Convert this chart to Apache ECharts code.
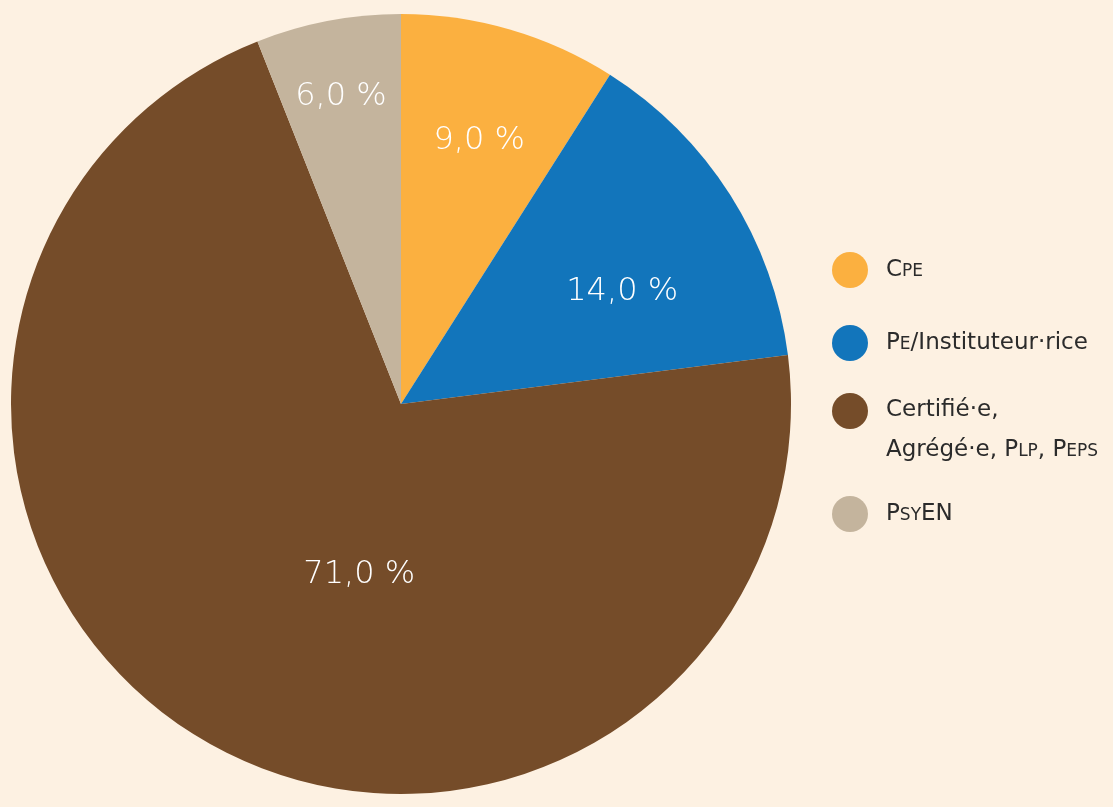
<!DOCTYPE html>
<html><head><meta charset="utf-8">
<script src="https://cdn.jsdelivr.net/npm/echarts@6/dist/echarts.min.js"></script>
<style>html,body{margin:0;padding:0;background:#FDF1E2}#c{width:1113px;height:807px}</style>
</head><body><div id="c"></div>
<script>
// Data
const categories = ['CPE', 'PE/Instituteur·rice', 'Certifié·e, Agrégé·e, PLP, PEPS', 'PsyEN'];
const values = [9.0, 14.0, 71.0, 6.0];
// Legend text with small caps (rich text)
const legendLabels = ['C{s|PE}', 'P{s|E}/Instituteur·rice', '{p|Certifié·e,}\nAgrégé·e, P{s|LP}, P{s|EPS}', 'P{s|SY}EN'];

// Styles
const colors = ['#FBB040', '#1275BB', '#754C29', '#C4B49D'];
const labelOffsets = [[23, -73], [54, -6], [59, 0], [-23, -113]];
const legendTops = [252, 325, 393, 496];

const chart = echarts.init(document.getElementById('c'));
const fontFamily = '"DejaVu Sans", sans-serif';

chart.setOption({
  backgroundColor: '#FDF1E2',
  animation: false,
  color: colors,
  legend: categories.map((name, i) => ({
    data: [name],
    orient: 'vertical',
    left: 832,
    top: legendTops[i],
    padding: 0,
    itemWidth: 36,
    itemHeight: 36,
    icon: 'circle',
    selectedMode: false,
    formatter: () => legendLabels[i],
    textStyle: {
      fontSize: 23,
      color: '#2b2b2b',
      fontFamily: fontFamily,
      fontWeight: 'normal',
      padding: [0, 0, 0, 13],
      rich: {
        s: { fontSize: 17, color: '#2b2b2b', fontFamily: fontFamily, padding: [3, 0, 0, 0] },
        p: { fontSize: 23, color: '#2b2b2b', fontFamily: fontFamily, padding: [39, 0, 17, 0] }
      }
    }
  })),
  series: [{
    type: 'pie',
    center: [401, 404],
    radius: 390,
    startAngle: 90,
    clockwise: true,
    avoidLabelOverlap: false,
    data: categories.map((name, i) => ({ name: name, value: values[i] })),
    label: {
      show: true,
      position: 'inside',
      color: '#ffffff',
      fontSize: 32,
      fontWeight: 200,
      fontFamily: fontFamily,
      formatter: p => p.value.toFixed(1).replace('.', ',') + ' %'
    },
    labelLine: { show: false },
    labelLayout: p => ({ dx: labelOffsets[p.dataIndex][0], dy: labelOffsets[p.dataIndex][1] }),
    itemStyle: { borderWidth: 0 },
    emphasis: { disabled: true }
  }]
});
</script>
</body></html>
